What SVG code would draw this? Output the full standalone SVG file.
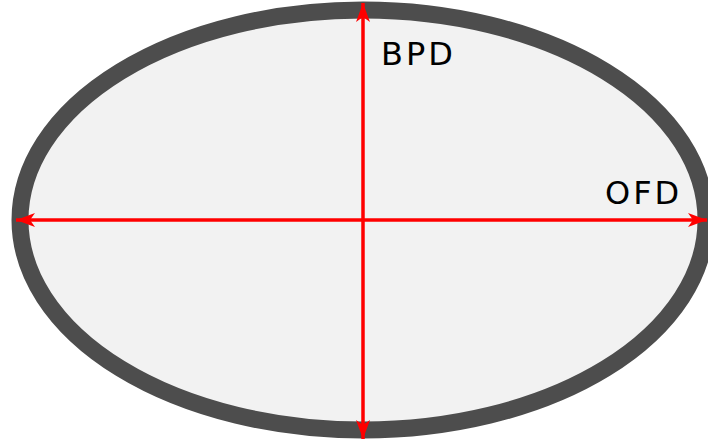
<svg xmlns="http://www.w3.org/2000/svg" width="708" height="448" viewBox="0 0 708 448">
<style>
.lbl{font-family:"DejaVu Sans",sans-serif;font-size:32px;letter-spacing:3px;fill:#000}
.ax{stroke:#ff0000;stroke-width:3.5;fill:none}
</style>
<defs>
<marker id="ah" viewBox="-2 -8 22 16" markerWidth="22" markerHeight="16" refX="18" refY="0" orient="auto" markerUnits="userSpaceOnUse">
<path d="M18,0 L-1,-7 L4,0 L-1,7 Z" fill="#ff0000"/>
</marker>
</defs>
<rect width="708" height="448" fill="#ffffff"/>
<g id="head">
<ellipse cx="363" cy="220" rx="343" ry="210" fill="#f2f2f2" stroke="#4d4d4d" stroke-width="17"/>
</g>
<g id="connectors">
<line class="ax" x1="363" y1="220" x2="363" y2="3" marker-end="url(#ah)"/>
<line class="ax" x1="363" y1="220" x2="363" y2="439" marker-end="url(#ah)"/>
<line class="ax" x1="363" y1="220" x2="16" y2="220" marker-end="url(#ah)"/>
<line class="ax" x1="363" y1="220" x2="707" y2="220" marker-end="url(#ah)"/>
</g>
<g id="bpd"><text class="lbl" x="381" y="65">BPD</text></g>
<g id="ofd"><text class="lbl" x="605" y="204">OFD</text></g>
</svg>
